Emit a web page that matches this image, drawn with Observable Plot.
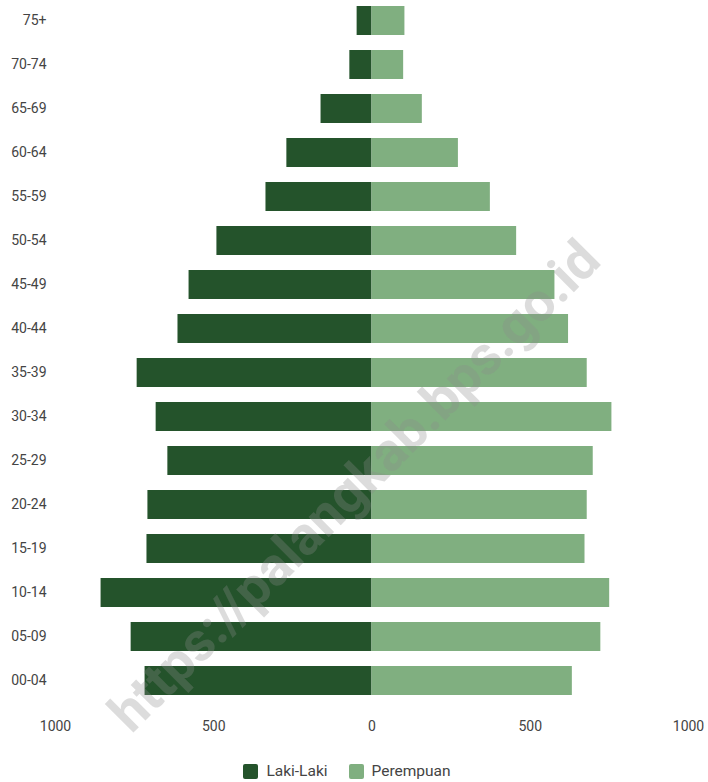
<!DOCTYPE html>
<html>
<head>
<meta charset="utf-8">
<script src="https://cdn.jsdelivr.net/npm/d3@7"></script>
<script src="https://cdn.jsdelivr.net/npm/@observablehq/plot@0.6"></script>
<style>
  body { margin: 0; background: #fff; font-family: Roboto, sans-serif; }
  #chart svg { display: block; overflow: visible; }
  .legend { display: flex; justify-content: center; align-items: center; gap: 21px; margin-top: 17px; font-size: 15.5px; color: #444; font-family: Roboto, sans-serif; padding-right: 14px; }
  .legend .item { display: flex; align-items: center; gap: 8px; }
  .legend .sw { width: 15px; height: 15px; border-radius: 2px; display: inline-block; }
</style>
</head>
<body>
<div id="chart"></div>
<script>
const ageGroups = ["75+","70-74","65-69","60-64","55-59","50-54","45-49","40-44","35-39","30-34","25-29","20-24","15-19","10-14","05-09","00-04"];
const laki = [47,70,161,269,335,490,578,613,742,682,645,708,711,856,761,717];
const perempuan = [104,100,159,273,374,457,578,621,680,758,699,680,673,751,723,633];
const seriesNames = ["Laki-Laki","Perempuan"];
const seriesColors = ["#24532b","#80af80"];
const xTicks = [-1000,-500,0,500,1000];
const watermark = ["https://palangkab.bps.go.id"];

const rows = [];
ageGroups.forEach((a, i) => {
  rows.push({age: a, sex: seriesNames[0], value: -laki[i]});
  rows.push({age: a, sex: seriesNames[1], value: perempuan[i]});
});

const chart = Plot.plot({
  width: 708,
  height: 745,
  marginLeft: 55,
  marginRight: 20,
  marginTop: 0,
  marginBottom: 43,
  style: {fontFamily: "Roboto, sans-serif", fontSize: "14px", color: "#444", background: "#fff"},
  x: {domain: [-1000, 1000], ticks: xTicks, tickFormat: d => String(Math.abs(d)), label: null, tickSize: 0, tickPadding: 19},
  y: {domain: ageGroups, label: null, tickSize: 0, tickPadding: 9, paddingInner: 0.34, paddingOuter: 0.136},
  color: {domain: seriesNames, range: seriesColors},
  marks: [
    Plot.barX(rows, {x: "value", y: "age", fill: "sex"}),
    Plot.text(watermark, {frameAnchor: "middle", dx: -17, dy: 135, rotate: -45, fontSize: 54, fontWeight: "bold", fill: "#8b8b8b", fillOpacity: 0.3})
  ]
});
document.getElementById("chart").appendChild(chart);

const legend = document.createElement("div");
legend.className = "legend";
seriesNames.forEach((n, i) => {
  const it = document.createElement("span");
  it.className = "item";
  const sw = document.createElement("span");
  sw.className = "sw";
  sw.style.background = seriesColors[i];
  const t = document.createElement("span");
  t.textContent = n;
  it.appendChild(sw); it.appendChild(t);
  legend.appendChild(it);
});
document.getElementById("chart").appendChild(legend);
</script>
</body>
</html>
